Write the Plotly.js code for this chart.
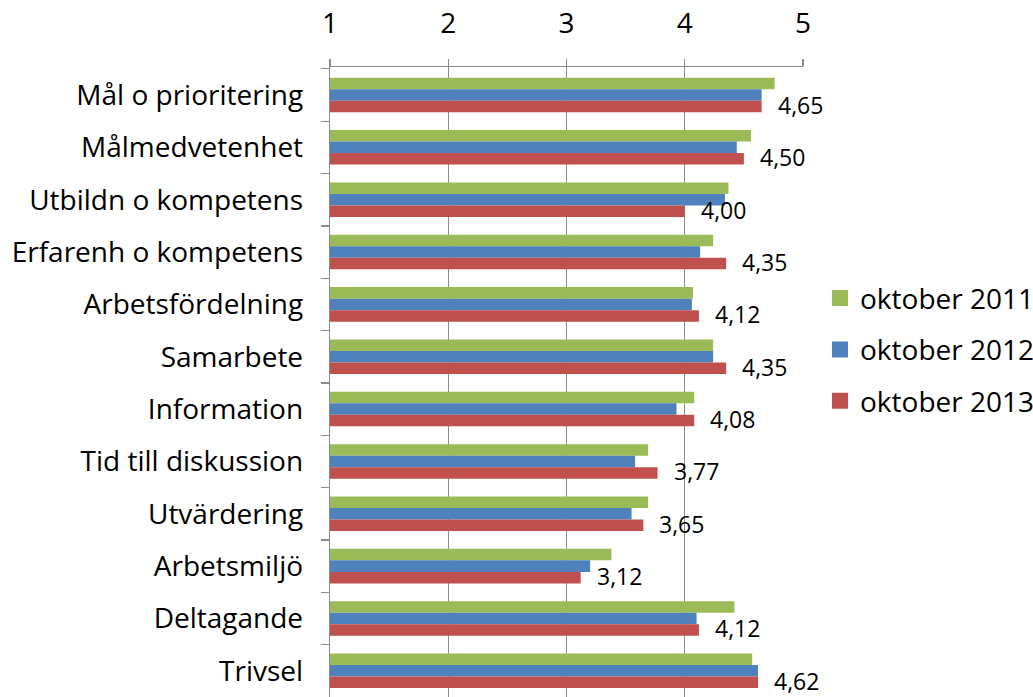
<!DOCTYPE html>
<html>
<head>
<meta charset="utf-8">
<script src="https://cdn.plot.ly/plotly-3.0.1.min.js"></script>
<style>html,body{margin:0;padding:0;background:#fff;}#chart{width:1033px;height:697px;}</style>
</head>
<body>
<div id="chart"></div>
<script>
const categories = ["Mål o prioritering","Målmedvetenhet","Utbildn o kompetens","Erfarenh o kompetens","Arbetsfördelning","Samarbete","Information","Tid till diskussion","Utvärdering","Arbetsmiljö","Deltagande","Trivsel"];
const seriesNames = ["oktober 2011","oktober 2012","oktober 2013"];
const okt2011 = [4.76,4.56,4.37,4.24,4.07,4.24,4.08,3.69,3.69,3.38,4.42,4.57];
const okt2012 = [4.65,4.44,4.34,4.13,4.06,4.24,3.93,3.58,3.55,3.20,4.10,4.62];
const okt2013 = [4.65,4.50,4.00,4.35,4.12,4.35,4.08,3.77,3.65,3.12,4.12,4.62];
const colors = ["#9BBB59","#4F81BD","#C0504D"];
const xTicks = [1,2,3,4,5];

const font = "'Open Sans', sans-serif";
const allSeries = [okt2011, okt2012, okt2013];
const traces = allSeries.map((vals, i) => ({
  type: "bar",
  orientation: "h",
  name: seriesNames[i],
  x: vals,
  y: categories,
  marker: {color: colors[i], line: {width: 0}},
  legendgroup: "g" + i,
  showlegend: false,
  hoverinfo: "x+name"
}));
// legend-only entries with larger square swatches
seriesNames.forEach((n, i) => {
  traces.push({
    type: "scatter",
    mode: "markers",
    name: n,
    x: [null],
    y: [null],
    marker: {symbol: "square", size: 18, color: colors[i]},
    legendgroup: "g" + i,
    showlegend: true,
    hoverinfo: "skip"
  });
});

const annotations = categories.map((c, i) => ({
  x: okt2013[i],
  y: c,
  xref: "x",
  yref: "y",
  text: okt2013[i].toFixed(2).replace(".", ","),
  showarrow: false,
  xanchor: "left",
  yanchor: "middle",
  xshift: 14,
  yshift: -10,
  font: {family: font, size: 23, color: "#000"}
}));

const layout = {
  width: 1033,
  height: 697,
  margin: {l: 330, r: 230, t: 67, b: 0, pad: 0, autoexpand: false},
  paper_bgcolor: "#fff",
  plot_bgcolor: "#fff",
  barmode: "group",
  bargap: 0.34,
  bargroupgap: 0,
  font: {family: font, color: "#000"},
  xaxis: {
    side: "top",
    range: [1, 5],
    tickvals: xTicks,
    ticktext: xTicks.map(String),
    showgrid: true,
    gridcolor: "#8C8C8C",
    gridwidth: 1.3,
    showline: true,
    linecolor: "#8C8C8C",
    linewidth: 1.3,
    ticks: "outside",
    ticklen: 7,
    tickcolor: "#8C8C8C",
    tickwidth: 1.3,
    tickfont: {family: font, size: 28, color: "#000"},
    ticklabelstandoff: 15,
    zeroline: false,
    fixedrange: true
  },
  yaxis: {
    type: "category",
    autorange: "reversed",
    showline: true,
    linecolor: "#8C8C8C",
    linewidth: 1.3,
    ticks: "outside",
    tickson: "boundaries",
    ticklen: 8,
    tickcolor: "#8C8C8C",
    tickwidth: 1.3,
    showgrid: false,
    tickfont: {family: font, size: 28, color: "#000"},
    ticklabelstandoff: 20,
    fixedrange: true
  },
  showlegend: true,
  legend: {
    x: 1.036,
    xanchor: "left",
    y: 0.551,
    yanchor: "middle",
    traceorder: "grouped",
    tracegroupgap: 12,
    font: {family: font, size: 28, color: "#000"},
    itemwidth: 30,
    bgcolor: "rgba(0,0,0,0)"
  },
  annotations: annotations
};

Plotly.newPlot("chart", traces, layout, {displayModeBar: false, staticPlot: true});
</script>
</body>
</html>
